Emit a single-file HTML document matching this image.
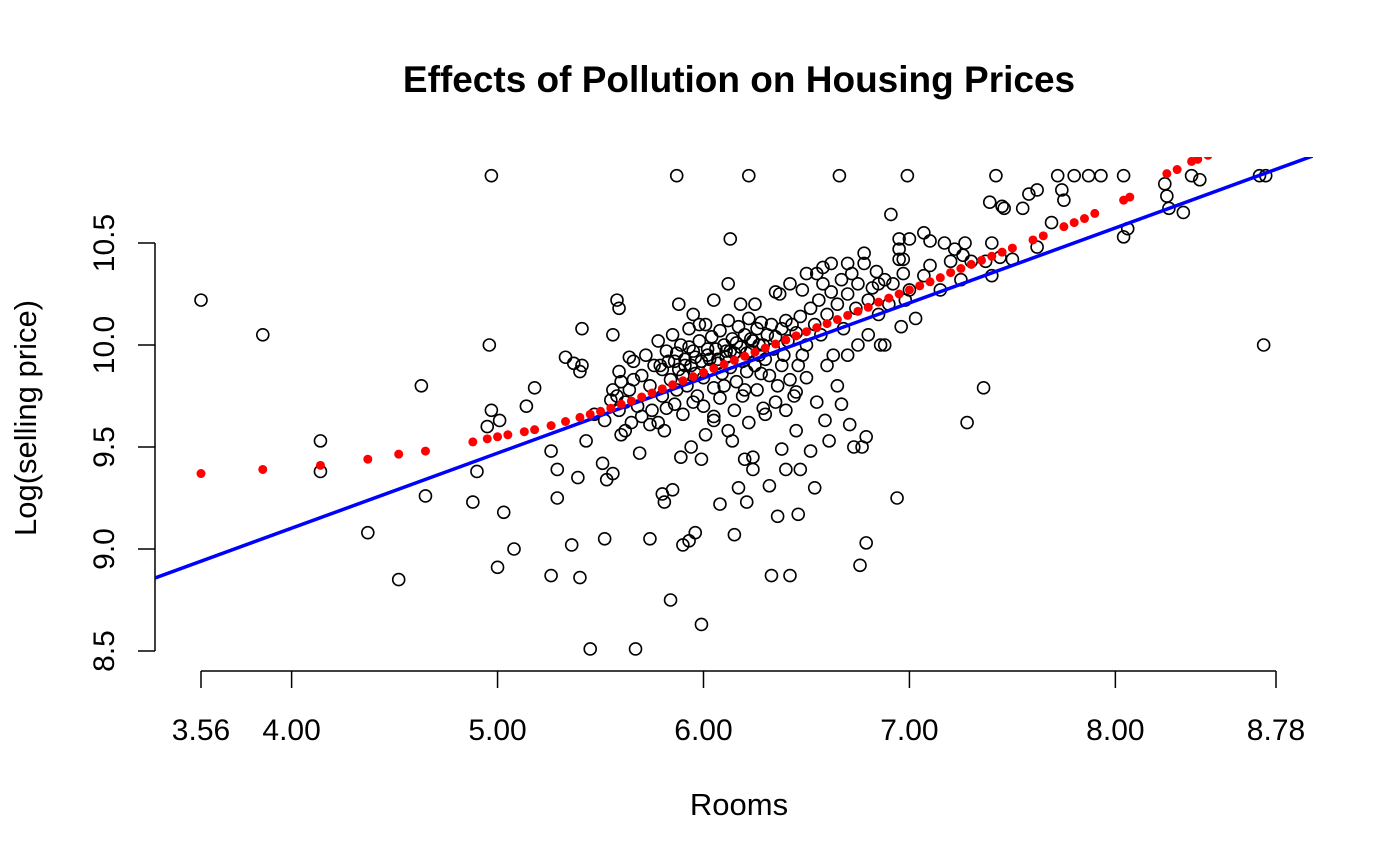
<!DOCTYPE html>
<html><head><meta charset="utf-8"><style>
html,body{margin:0;padding:0;background:#fff;}
svg{display:block;font-family:"Liberation Sans",Arial,sans-serif;}
</style></head><body>
<svg id="chart" width="1400" height="865" viewBox="0 0 1400 865" xmlns="http://www.w3.org/2000/svg">
<rect width="1400" height="865" fill="#fff"/>
<text x="739" y="92" text-anchor="middle" font-size="37" font-weight="bold">Effects of Pollution on Housing Prices</text>
<text x="739" y="815" text-anchor="middle" font-size="31">Rooms</text>
<text transform="translate(36,418) rotate(-90)" text-anchor="middle" font-size="31">Log(selling price)</text>
<defs><clipPath id="plotclip"><rect x="155" y="157" width="1158" height="510"/></clipPath></defs>
<g id="axes"></g>
<g id="marks" clip-path="url(#plotclip)"></g>
</svg>
<script>
const xTicks = [3.56, 4.00, 5.00, 6.00, 7.00, 8.00, 8.78];
const xTickLabels = ["3.56", "4.00", "5.00", "6.00", "7.00", "8.00", "8.78"];
const yTicks = [8.5, 9.0, 9.5, 10.0, 10.5];
const yTickLabels = ["8.5", "9.0", "9.5", "10.0", "10.5"];
const lineCoef = [7.63, 0.368];
const rooms = [3.56,3.86,4.14,4.14,4.37,4.52,4.63,4.65,4.88,4.90,4.96,4.97,4.97,4.95,5.0,5.03,5.01,5.08,5.14,5.18,5.26,5.26,5.29,5.29,5.33,5.36,5.37,5.40,5.41,5.39,5.40,5.41,5.43,5.45,5.47,5.52,5.51,5.53,5.56,5.56,5.56,5.58,5.59,5.60,5.59,5.59,5.62,5.64,5.66,5.67,5.69,5.74,5.74,5.80,5.81,5.81,5.84,5.85,5.87,5.89,5.90,5.93,5.94,5.96,5.99,5.99,6.01,6.05,6.08,6.14,6.15,6.17,6.20,6.21,6.22,6.24,6.24,6.13,6.29,6.32,6.33,6.36,6.38,6.40,6.42,6.45,6.46,6.47,6.52,6.54,6.59,6.61,6.66,6.67,6.71,6.73,6.76,6.77,6.79,6.79,6.88,6.94,6.99,6.96,7.03,7.28,7.36,8.72,
6.91,7.07,7.27,7.40,7.39,7.42,7.45,7.46,7.55,7.58,7.62,7.62,7.69,7.72,7.74,7.75,7.80,7.87,7.93,8.04,8.06,8.04,8.24,8.25,8.26,8.33,8.37,8.41,8.70,8.73,
7.10,7.17,7.22,7.26,7.10,7.07,7.15,7.00,6.97,6.95,6.95,7.00,7.20,7.30,7.37,7.40,7.25,7.44,7.50,
5.70,5.72,5.74,5.76,5.78,5.80,5.80,5.82,5.84,5.85,5.86,5.87,5.88,5.89,5.90,5.91,5.92,5.93,5.94,5.95,5.96,5.97,5.98,5.99,6.00,6.01,6.02,6.03,6.04,6.05,6.06,6.07,6.08,6.09,6.10,6.11,6.12,6.13,6.14,6.15,6.16,6.17,6.18,6.19,6.20,6.21,6.22,6.23,6.24,6.25,6.26,6.27,6.28,6.29,6.30,6.31,6.32,6.33,6.34,6.35,6.36,6.37,6.38,6.39,6.40,6.41,6.42,6.43,6.44,6.45,6.46,6.47,6.48,6.50,6.52,6.54,6.55,6.56,6.57,6.58,6.60,6.62,6.63,6.65,6.67,6.68,6.70,6.72,6.74,6.75,6.78,6.80,6.82,6.84,6.85,6.88,6.90,6.92,6.95,6.97,6.98,
5.62,5.64,5.66,5.68,5.60,5.58,5.55,5.52,5.65,5.70,5.75,5.78,5.82,5.86,5.90,5.95,6.00,6.05,6.08,6.12,6.15,6.19,6.22,6.26,6.30,6.35,6.40,6.45,6.50,6.55,6.60,6.65,6.70,6.75,6.80,6.86,
5.88,5.95,6.05,6.12,6.18,6.25,6.35,6.42,6.50,6.58,6.62,6.70,6.78,6.85,5.98,6.10,6.20,6.28,6.38,6.48,
5.83,5.87,5.91,5.96,6.02,6.07,6.11,6.16,6.21,6.27,5.79,5.93,6.03,6.13,6.23];
const logPrice = [10.22,10.05,9.53,9.38,9.08,8.85,9.80,9.26,9.23,9.38,10.0,10.83,9.68,9.60,8.91,9.18,9.63,9.0,9.70,9.79,9.48,8.87,9.39,9.25,9.94,9.02,9.91,9.87,9.90,9.35,8.86,10.08,9.53,8.51,9.66,9.05,9.42,9.34,10.05,9.78,9.37,10.22,10.18,9.56,9.87,9.68,9.58,9.94,9.83,8.51,9.47,9.05,9.61,9.27,9.23,9.58,8.75,9.29,10.83,9.45,9.02,9.04,9.50,9.08,8.63,9.44,9.56,9.63,9.22,9.53,9.07,9.30,9.44,9.23,10.83,9.39,9.45,10.52,9.69,9.31,8.87,9.16,9.49,9.39,8.87,9.58,9.17,9.39,9.48,9.30,9.63,9.53,10.83,9.71,9.61,9.50,8.92,9.50,9.03,9.55,10.0,9.25,10.83,10.09,10.13,9.62,9.79,10.0,
10.64,10.55,10.50,10.50,10.70,10.83,10.68,10.67,10.67,10.74,10.76,10.48,10.60,10.83,10.76,10.71,10.83,10.83,10.83,10.83,10.57,10.53,10.79,10.73,10.67,10.65,10.83,10.81,10.83,10.83,
10.51,10.50,10.47,10.44,10.39,10.34,10.27,10.27,10.42,10.47,10.52,10.52,10.41,10.41,10.41,10.34,10.32,10.43,10.42,
9.85,9.95,9.80,9.90,10.02,9.88,9.75,9.97,9.83,10.05,9.92,9.78,9.88,10.00,9.85,9.93,9.80,10.08,9.90,9.97,9.86,9.75,10.02,9.92,9.84,10.10,9.95,9.88,10.04,9.79,9.98,9.91,10.07,9.86,10.00,9.94,10.12,9.89,10.03,9.96,9.82,10.09,9.99,9.92,10.05,9.87,10.13,9.97,10.02,9.90,10.08,9.95,10.11,10.00,9.93,10.05,9.85,10.10,9.98,10.04,9.80,10.25,10.08,9.95,10.12,10.02,9.83,10.10,9.75,10.06,9.90,10.14,10.27,10.00,10.18,10.10,10.35,10.22,10.05,10.30,10.15,10.26,9.95,10.20,10.32,10.08,10.25,10.35,10.18,10.30,10.40,10.22,10.28,10.36,10.15,10.32,10.20,10.30,10.42,10.35,10.22,
9.72,9.78,9.92,9.70,9.82,9.75,9.73,9.63,9.62,9.65,9.68,9.62,9.69,9.71,9.66,9.72,9.70,9.65,9.74,9.58,9.68,9.75,9.62,9.78,9.66,9.72,9.68,9.77,9.84,9.72,9.90,9.80,9.95,10.00,10.05,10.00,
10.20,10.15,10.22,10.30,10.20,10.20,10.26,10.30,10.35,10.38,10.40,10.40,10.45,10.30,10.10,9.80,9.78,9.86,9.90,9.95,
9.92,9.96,9.90,9.94,9.98,9.93,9.97,10.01,9.96,10.00,9.90,9.99,9.93,9.97,10.03];
const fitRooms = [3.56,3.86,4.14,4.37,4.52,4.65,4.88,4.95,5.0,5.05,5.13,5.18,5.26,5.33,5.40,5.45,5.5,5.55,5.6,5.65,5.7,5.75,5.8,5.85,5.9,5.95,6.0,6.05,6.1,6.15,6.2,6.25,6.3,6.35,6.4,6.45,6.5,6.55,6.6,6.65,6.7,6.75,6.8,6.85,6.9,6.95,7.0,7.05,7.1,7.15,7.2,7.25,7.3,7.35,7.4,7.45,7.5,7.6,7.65,7.75,7.8,7.85,7.9,8.04,8.07,8.25,8.3,8.37,8.4,8.45];
const fitPrice = [9.37,9.39,9.41,9.44,9.465,9.48,9.525,9.54,9.55,9.56,9.575,9.585,9.605,9.625,9.645,9.66,9.675,9.69,9.71,9.725,9.745,9.765,9.785,9.805,9.825,9.845,9.865,9.885,9.905,9.925,9.945,9.965,9.985,10.005,10.025,10.045,10.065,10.085,10.105,10.125,10.145,10.165,10.185,10.21,10.23,10.25,10.27,10.29,10.31,10.33,10.355,10.375,10.395,10.415,10.435,10.455,10.475,10.515,10.535,10.58,10.60,10.62,10.645,10.71,10.725,10.84,10.86,10.90,10.91,10.93];

const NS = "http://www.w3.org/2000/svg";
function xs(v){ return 201 + (v - 3.56) * (1075 / 5.22); }
function ys(v){ return 345 - (v - 10) * 204; }
const axes = document.getElementById('axes');
const marks = document.getElementById('marks');
function mk(tag, attrs, parent){ const e = document.createElementNS(NS, tag); for (const k in attrs) e.setAttribute(k, attrs[k]); parent.appendChild(e); return e; }

let xl = mk('line', {x1: xs(xTicks[0]), x2: xs(xTicks[xTicks.length-1]), y1: 671, y2: 671, stroke: '#000', 'stroke-width': 1.5}, axes);


xTicks.forEach((t, i) => {
  const tk = mk('line', {x1: xs(t), x2: xs(t), y1: 671, y2: 688, stroke: '#000', 'stroke-width': 1.5}, axes);
  
  
  const lb = mk('text', {x: xs(t), y: 740, 'text-anchor': 'middle', 'font-size': 30}, axes);
  lb.textContent = xTickLabels[i];
  
  
});
let yl = mk('line', {x1: 155, x2: 155, y1: ys(yTicks[yTicks.length-1]), y2: ys(yTicks[0]), stroke: '#000', 'stroke-width': 1.5}, axes);


yTicks.forEach((t, i) => {
  const tk = mk('line', {x1: 138, x2: 155, y1: ys(t), y2: ys(t), stroke: '#000', 'stroke-width': 1.5}, axes);
  
  
  const lb = mk('text', {transform: 'translate(114,' + ys(t) + ') rotate(-90)', 'text-anchor': 'middle', 'font-size': 30}, axes);
  lb.textContent = yTickLabels[i];
  
  
});
rooms.forEach((r, i) => {
  const c = mk('circle', {cx: xs(r), cy: ys(logPrice[i]), r: 6, fill: 'none', stroke: '#000', 'stroke-width': 1.6}, marks);
  
  
});
const x0 = 3.2, x1 = 9.1;
const rl = mk('line', {x1: xs(x0), y1: ys(lineCoef[0] + lineCoef[1]*x0), x2: xs(x1), y2: ys(lineCoef[0] + lineCoef[1]*x1), stroke: '#0000ff', 'stroke-width': 3.5}, marks);


fitRooms.forEach((r, i) => {
  const c = mk('circle', {cx: xs(r), cy: ys(fitPrice[i]), r: 4.5, fill: '#ff0000'}, marks);
  
  
});
</script>
</body></html>
